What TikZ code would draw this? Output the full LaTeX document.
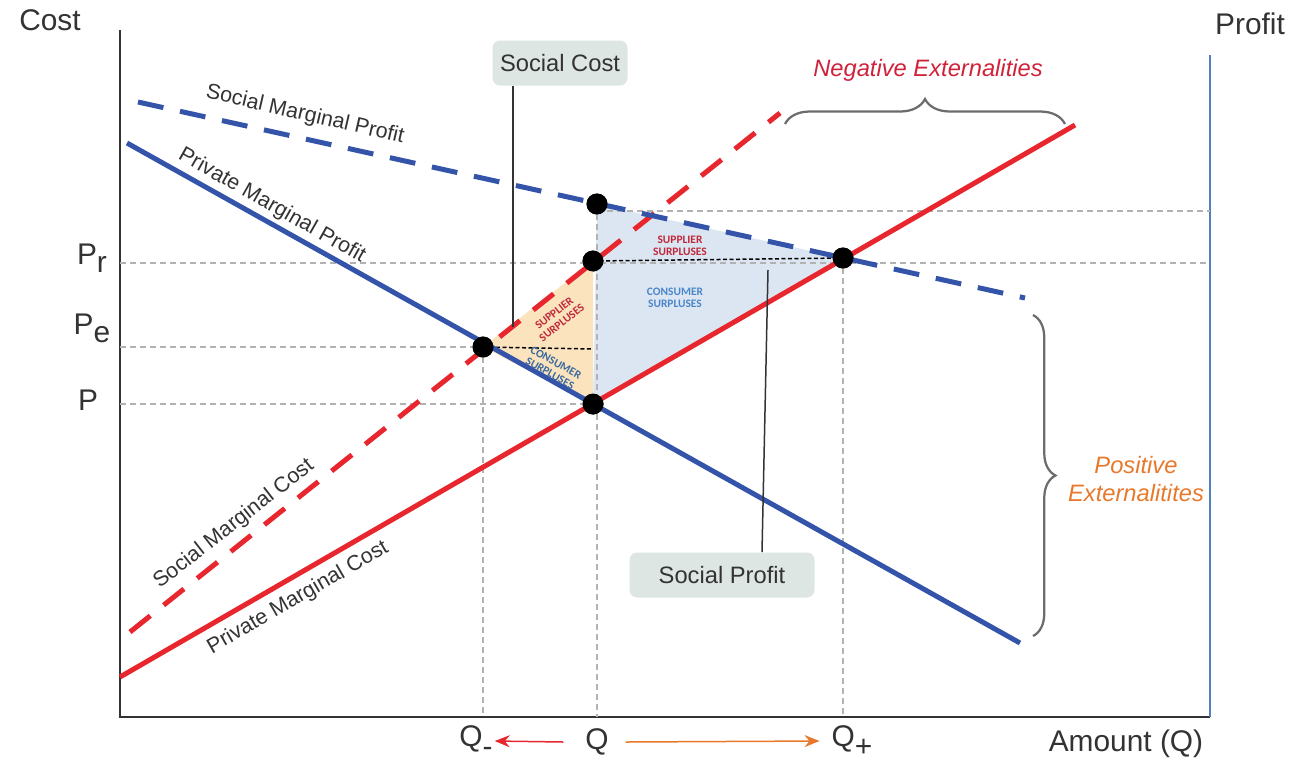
\documentclass[tikz,border=0pt]{standalone}
\usepackage{fontspec}
\setmainfont{Liberation Sans}
\newfontfamily\surplusfont{Carlito}
\usetikzlibrary{arrows.meta,decorations.pathreplacing}
\definecolor{costred}{RGB}{232,38,46}
\definecolor{profitblue}{RGB}{52,84,170}
\definecolor{axisblue}{RGB}{79,129,189}
\definecolor{textgray}{RGB}{51,51,51}
\definecolor{boxgray}{RGB}{222,230,227}
\definecolor{fillorange}{RGB}{251,227,190}
\definecolor{fillblue}{RGB}{220,230,242}
\definecolor{negred}{RGB}{208,34,58}
\definecolor{posorange}{RGB}{232,121,44}
\definecolor{surpred}{RGB}{192,40,58}
\definecolor{surpblue}{RGB}{74,134,200}
\begin{document}
\begin{tikzpicture}[x=0.2mm,y=-0.2mm,
    curve/.style={line width=1mm},
    dashcurve/.style={line width=1mm,dash pattern=on 5.2mm off 3.4mm},
    guide/.style={gray!60,line width=0.25mm,dash pattern=on 1.2mm off 0.8mm},
    dot/.style={circle,fill=black,minimum size=4.2mm,inner sep=0pt},
    callout/.style={rounded corners=1.5mm,fill=boxgray,minimum width=27mm,minimum height=9mm,
      font=\fontsize{13.5}{16}\selectfont,text=textgray},
    curvelabel/.style={text=textgray,font=\fontsize{12.2}{14}\selectfont,inner sep=1pt},
    axislabel/.style={text=textgray,font=\fontsize{17}{20}\selectfont,inner sep=1pt},
    surplus/.style={font=\surplusfont\bfseries\fontsize{6.5}{7}\selectfont,align=center,inner sep=0pt},
    bracestyle/.style={draw=gray!85!black,line width=0.45mm}]

  \useasboundingbox (0,0) rectangle (1305,761);

  \coordinate (pmp start) at (127,143);
  \coordinate (pmp end)   at (1020,643);
  \coordinate (pmc start) at (120,677);
  \coordinate (pmc end)   at (1075,125);
  \coordinate (smc start) at (130,632);
  \coordinate (smc end)   at (780,113);
  \coordinate (smp start) at (138,102);
  \coordinate (smp end)   at (1025,298);

  \begin{scope}[every node/.style={dot}]
    \node (pe) at (483,347) {};
    \node (p0) at (593,404) {};
    \node (pr) at (593,261) {};
    \node (ps) at (597,204) {};
    \node (pq) at (843,258) {};
  \end{scope}

  \fill[fillorange] (pe.center) -- (pr.center) -- (p0.center) -- cycle;
  \fill[fillblue] (ps.center) -- (pq.center) -- (p0.center) -- cycle;

  \coordinate (y top)    at (120,30);
  \coordinate (origin)   at (120,717);
  \coordinate (x end)    at (1210,717);
  \coordinate (r top)    at (1210,55);
  \draw[textgray,line width=0.35mm] (y top) -- (origin) -- (x end);
  \draw[axisblue,line width=0.35mm] (r top) -- (x end);

  \draw[guide] (597,211) -- (1210,211);
  \draw[guide] (120,263) -- (1210,263);
  \draw[guide] (120,347) -- (pe.center);
  \draw[guide] (120,404) -- (p0.center);
  \draw[guide] (pe.center) -- (pe.center |- origin);
  \draw[guide] (ps.center) -- (ps.center |- origin);
  \draw[guide] (pq.center) -- (pq.center |- origin);
  \draw[black,line width=0.3mm,dash pattern=on 0.8mm off 0.5mm] (pr.center) -- (pq.center);
  \draw[black,line width=0.3mm,dash pattern=on 0.8mm off 0.5mm] (pe.center) -- (593,349);

  \draw[curve,costred] (pmc start) -- (pmc end);
  \draw[dashcurve,costred] (smc start) -- (smc end);
  \draw[curve,profitblue] (pmp start) -- (pmp end);
  \draw[dashcurve,profitblue] (smp start) -- (smp end);

  \begin{scope}[every node/.style={dot}]
    \node at (pe) {};
    \node at (p0) {};
    \node at (pr) {};
    \node at (ps) {};
    \node at (pq) {};
  \end{scope}

  \node[surplus,text=surpred] (ss1) at (680,246) {SUPPLIER\\SURPLUSES};
  \node[surplus,text=surpblue] (cs1) at (675,298) {CONSUMER\\SURPLUSES};
  \node[surplus,text=surpred,rotate=38] (ss2) at (558,318) {SUPPLIER\\SURPLUSES};
  \node[surplus,text=surpblue!80!black,rotate=-29] (cs2) at (553,368) {CONSUMER\\SURPLUSES};

  \node[curvelabel,rotate=-13] (smp lab) at (305,115) {Social Marginal Profit};
  \node[curvelabel,rotate=-29.5] (pmp lab) at (272,206) {Private Marginal Profit};
  \node[curvelabel,rotate=38] (smc lab) at (234,524) {Social Marginal Cost};
  \node[curvelabel,rotate=30] (pmc lab) at (298,598) {Private Marginal Cost};

  \node[callout] (scbox) at (560,63) {Social Cost};
  \node[callout,minimum width=37mm] (spbox) at (722,575) {Social Profit};
  \coordinate (sc tip) at (513,327);
  \coordinate (sp tip) at (768,270);
  \draw[textgray,line width=0.3mm] (sc tip |- scbox.south) -- (sc tip);
  \draw[textgray,line width=0.3mm] (sp tip) -- ([xshift=8mm]spbox.north);

  \draw[bracestyle,decorate,decoration={brace,amplitude=5mm}] (785,124) -- (1065,124);
  \draw[bracestyle,decorate,decoration={brace,amplitude=4.5mm}] (1033,315) -- (1033,636);
  \node[text=negred,font=\fontsize{13.5}{16}\selectfont\itshape] (neg) at (928,70) {Negative Externalities};
  \node[text=posorange,font=\fontsize{13.5}{16}\selectfont\itshape,align=center] (pos) at (1136,479) {Positive\\Externalitites};

  \begin{scope}[every node/.style={axislabel}]
    \node (cost) at (50,20) {Cost};
    \node (profit) at (1250,24) {Profit};
    \node (amount) at (1126,744) {Amount (Q)};
    \node (prl) at (92,258) {P\raisebox{-0.5ex}{r}};
    \node (pel) at (92,328) {P\raisebox{-0.5ex}{e}};
    \node (pl) at (88,400) {P};
    \node (qm) at (476,741) {Q\raisebox{-0.6ex}{-}};
    \node (q0) at (597,742) {Q};
    \node (qp) at (852,741) {Q\raisebox{-0.6ex}{+}};
  \end{scope}
  \draw[costred,line width=0.3mm,-{Stealth[length=3mm,width=2.4mm]}] ([xshift=-4mm]q0.west) -- (qm.east);
  \draw[posorange,line width=0.3mm,-{Stealth[length=3mm,width=2.4mm]}] ([xshift=3mm]q0.east) -- ([xshift=-2mm]qp.west);

\end{tikzpicture}
\end{document}
